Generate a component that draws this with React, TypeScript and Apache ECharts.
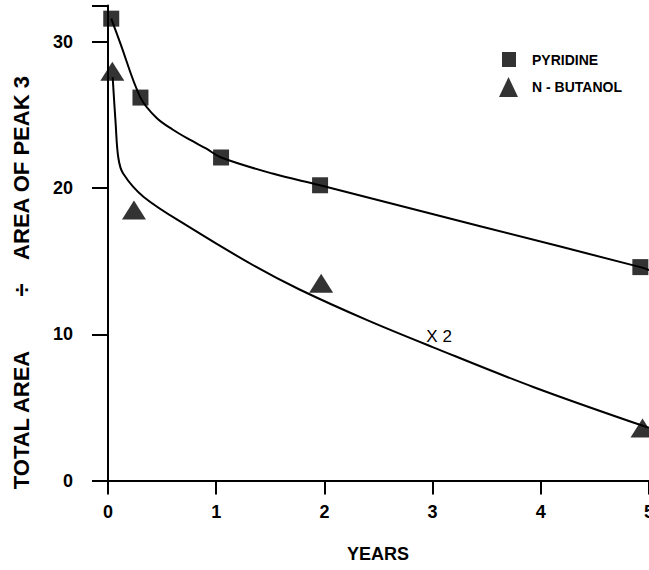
import React, { useEffect, useRef } from "react";
import * as echarts from "echarts";

// Measured data points
const pyridineX = [0.03, 0.30, 1.045, 1.96, 4.92];
const pyridineY = [31.6, 26.2, 22.1, 20.2, 14.6];
const butanolX = [0.04, 0.24, 1.97, 4.94];
const butanolY = [28.0, 18.5, 13.5, 3.6];

// Fitted curves as drawn in the figure
const pyridineCurveX = [0.03, 0.11, 0.30, 0.45, 0.60, 0.76, 0.91, 1.045, 1.52, 1.96, 3.44, 4.92, 5.0];
const pyridineCurveY = [31.6, 30.0, 26.2, 24.8, 24.0, 23.3, 22.7, 22.1, 21.0, 20.2, 17.4, 14.6, 14.4];
const butanolCurveX = [0.043, 0.07, 0.095, 0.14, 0.33, 0.76, 1.37, 1.77, 2.39, 3.0, 3.93, 5.0];
const butanolCurveY = [27.6, 24.5, 22.1, 21.0, 19.4, 17.3, 14.61, 13.07, 10.99, 9.13, 6.4, 3.6];

const xTicks = [0, 1, 2, 3, 4, 5];
const yTicks = [0, 10, 20, 30];
const annotation = { x: 3.06, y: 9.86, text: "X 2" };
const yTitleParts = ["TOTAL AREA", "÷", "AREA OF PEAK 3"];
const xTitle = "YEARS";

const FONT = "'Liberation Sans', Arial, sans-serif";

const zip = (xs: number[], ys: number[]) => xs.map((x, i) => [x, ys[i]]);

export default function App() {
  const ref = useRef<HTMLDivElement>(null);
  useEffect(() => {
    if (!ref.current) return;
    document.documentElement.style.overflow = "hidden";
    document.body.style.margin = "0";
    const chart = echarts.init(ref.current, undefined, { renderer: "svg" });
    const titleFont = `bold 22px ${FONT}`;
    chart.setOption({
      animation: false,
      backgroundColor: "#fff",
      grid: {
        left: 108,
        right: 0,
        top: 5.5,
        bottom: 89.5,
        containLabel: false,
        outerBoundsMode: "none",
      },
      xAxis: {
        type: "value",
        min: xTicks[0],
        max: xTicks[xTicks.length - 1],
        interval: 1,
        axisLine: { show: true, lineStyle: { color: "#000", width: 2 } },
        axisTick: { show: true, length: 14, lineStyle: { color: "#000", width: 2 } },
        splitLine: { show: false },
        axisLabel: {
          margin: 22,
          color: "#000",
          fontFamily: FONT,
          fontWeight: "bold",
          fontSize: 18,
          showMaxLabel: true,
          showMinLabel: true,
        },
      },
      yAxis: {
        type: "value",
        min: 0,
        max: 32.5,
        interval: 10,
        axisLine: { show: true, lineStyle: { color: "#000", width: 2 } },
        axisTick: { show: true, length: 16, lineStyle: { color: "#000", width: 2 } },
        splitLine: { show: false },
        axisLabel: {
          margin: 35,
          color: "#000",
          fontFamily: FONT,
          fontWeight: "bold",
          fontSize: 18,
          formatter: (v: number) => (yTicks.includes(v) ? String(v) : ""),
        },
      },
      legend: [
        {
          data: [{ name: "PYRIDINE", icon: "rect" }],
          left: 497,
          top: 47,
          itemWidth: 14,
          itemHeight: 15,
          selectedMode: false,
          textStyle: { color: "#000", fontFamily: FONT, fontWeight: "bold", fontSize: 14, padding: [0, 0, 0, 11] },
        },
        {
          data: [{ name: "N - BUTANOL", icon: "triangle" }],
          left: 494,
          top: 72,
          itemWidth: 19,
          itemHeight: 20,
          selectedMode: false,
          textStyle: { color: "#000", fontFamily: FONT, fontWeight: "bold", fontSize: 14, padding: [0, 0, 0, 9] },
        },
      ],
      graphic: [
        {
          type: "text",
          x: 21,
          y: 420,
          rotation: Math.PI / 2,
          style: { text: yTitleParts[0], fill: "#000", font: titleFont, align: "center", verticalAlign: "middle" },
        },
        {
          type: "text",
          x: 21,
          y: 290,
          rotation: Math.PI / 2,
          style: { text: yTitleParts[1], fill: "#000", font: `bold 24px ${FONT}`, align: "center", verticalAlign: "middle" },
        },
        {
          type: "text",
          x: 21,
          y: 168,
          rotation: Math.PI / 2,
          style: { text: yTitleParts[2], fill: "#000", font: titleFont, align: "center", verticalAlign: "middle" },
        },
        {
          type: "text",
          x: 378,
          y: 554,
          style: { text: xTitle, fill: "#000", font: `bold 18px ${FONT}`, align: "center", verticalAlign: "middle" },
        },
      ],
      series: [
        {
          name: "pyridine-curve",
          type: "line",
          data: zip(pyridineCurveX, pyridineCurveY),
          showSymbol: false,
          smooth: 0.35,
          lineStyle: { color: "#000", width: 2 },
          silent: true,
          z: 2,
        },
        {
          name: "butanol-curve",
          type: "line",
          data: zip(butanolCurveX, butanolCurveY),
          showSymbol: false,
          smooth: 0.35,
          lineStyle: { color: "#000", width: 2 },
          silent: true,
          z: 2,
          markPoint: {
            symbol: "rect",
            symbolSize: 0,
            data: [{ coord: [annotation.x, annotation.y] }],
            label: {
              show: true,
              formatter: annotation.text,
              position: "inside",
              color: "#000",
              fontFamily: FONT,
              fontSize: 17,
            },
          },
        },
        {
          name: "PYRIDINE",
          type: "scatter",
          data: zip(pyridineX, pyridineY),
          symbol: "rect",
          symbolSize: 16,
          itemStyle: { color: "#000" },
          clip: false,
          z: 3,
        },
        {
          name: "N - BUTANOL",
          type: "scatter",
          data: zip(butanolX, butanolY),
          symbol: "triangle",
          symbolSize: [24, 19],
          itemStyle: { color: "#000" },
          clip: false,
          z: 3,
        },
      ],
    });
    return () => chart.dispose();
  }, []);
  return (
    <div
      ref={ref}
      style={{ position: "absolute", left: 0, top: 0, width: 649, height: 570, overflow: "hidden" }}
    />
  );
}
